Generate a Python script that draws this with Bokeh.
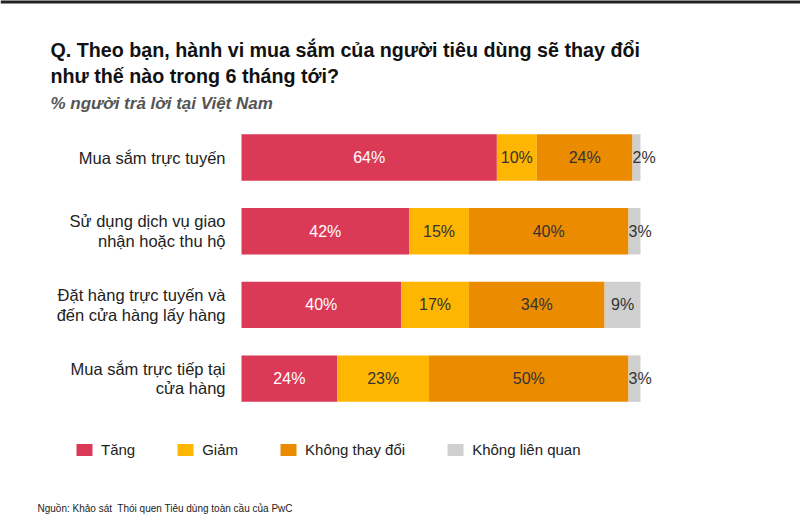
from bokeh.plotting import figure
from bokeh.models import ColumnDataSource, Range1d, Label, Legend, LegendItem, BoxAnnotation
from bokeh.core.properties import value
from bokeh.embed import file_html
from bokeh.resources import INLINE

# ---------------- data ----------------
categories = [
    "Mua sắm trực tuyến",
    "Sử dụng dịch vụ giao\nnhận hoặc thu hộ",
    "Đặt hàng trực tuyến và\nđến cửa hàng lấy hàng",
    "Mua sắm trực tiếp tại\ncửa hàng",
]
series_names = ["Tăng", "Giảm", "Không thay đổi", "Không liên quan"]
tang = [64, 42, 40, 24]
giam = [10, 15, 17, 23]
khong_thay_doi = [24, 40, 34, 50]
khong_lien_quan = [2, 3, 9, 3]
colors = ["#DB3A57", "#FFB600", "#EB8C00", "#CFCFCF"]
label_colors = ["#FFFFFF", "#333333", "#333333", "#333333"]

title_lines = [
    "Q. Theo bạn, hành vi mua sắm của người tiêu dùng sẽ thay đổi",
    "như thế nào trong 6 tháng tới?",
]
subtitle = "% người trả lời tại Việt Nam"
source_note = "Nguồn: Khảo sát\u00a0 Thói quen Tiêu dùng toàn cầu của PwC"

# ---------------- layout ----------------
W, H = 800, 529
X0, PX_PER = 241.0, 3.99      # pixel of 0 %, pixels per 1 %
Y0, ROW = 157.0, 73.7         # pixel of first row centre, row pitch
FONT = "Liberation Sans"

def x_of(px):
    return (px - X0) / PX_PER

def y_of(py):
    return (py - Y0) / ROW

p = figure(width=W, height=H, output_backend="svg", toolbar_location=None,
           x_range=Range1d(x_of(0), x_of(W)), y_range=Range1d(y_of(H), y_of(0)),
           x_axis_type=None, y_axis_type=None, min_border=0,
           min_border_left=0, min_border_right=0, min_border_top=0, min_border_bottom=0)
p.grid.visible = False
p.outline_line_color = None
p.background_fill_color = "white"
p.border_fill_color = "white"

rows = list(range(len(categories)))
keys = ["tang", "giam", "ktd", "klq"]
src = ColumnDataSource(dict(y=rows, tang=tang, giam=giam, ktd=khong_thay_doi, klq=khong_lien_quan))
renderers = p.hbar_stack(keys, y="y", height=0.63, color=colors, line_color=None, source=src)

# value labels
all_vals = [tang, giam, khong_thay_doi, khong_lien_quan]
cx, cy, ct, cc = [], [], [], []
lx, ly, lt = [], [], []
left = [0.0] * len(rows)
for s, vals in enumerate(all_vals):
    for i, v in enumerate(vals):
        if v < 5:
            lx.append(left[i]); ly.append(i); lt.append(f"{v}%")
        else:
            cx.append(left[i] + v / 2); cy.append(i); ct.append(f"{v}%"); cc.append(label_colors[s])
        left[i] += v

p.text(x="x", y="y", text="t", source=ColumnDataSource(dict(x=cx, y=cy, t=ct, c=cc)),
       text_color="c", text_align="center", text_baseline="middle",
       text_font=value(FONT), text_font_size="16px")
p.text(x="x", y="y", text="t", source=ColumnDataSource(dict(x=lx, y=ly, t=lt)),
       text_color="#333333", text_align="left", text_baseline="middle", x_offset=0,
       text_font=value(FONT), text_font_size="16px")

# category labels
p.text(x=[x_of(225)] * len(rows), y=rows, text=categories,
       text_align="right", text_baseline="middle", text_color="#222222",
       text_font=value(FONT), text_font_size="16.5px", text_line_height=1.08)

# titles
for line, base in zip(title_lines, [49, 75]):
    p.add_layout(Label(x=x_of(50), y=y_of(base), text=line, text_font=FONT,
                       text_font_size="19.7px", text_font_style="bold",
                       text_color="#111111", text_baseline="alphabetic"))
p.add_layout(Label(x=x_of(50), y=y_of(103), text=subtitle, text_font=FONT,
                   text_font_size="17px", text_font_style="bold italic",
                   text_color="#555555", text_baseline="alphabetic"))
p.add_layout(Label(x=x_of(37), y=y_of(508), text=source_note, text_font=FONT,
                   text_font_size="10px", text_color="#222222", text_baseline="alphabetic"))

# top dark rule
p.add_layout(BoxAnnotation(top=y_of(-5), bottom=y_of(3), fill_color="#222222",
                           fill_alpha=1, line_color=None))

# legend
items = [LegendItem(label=n, renderers=[r]) for n, r in zip(series_names, renderers)]
legend = Legend(items=items, orientation="horizontal", location=(74, 70),
                glyph_width=20, glyph_height=15, label_standoff=7, spacing=40,
                padding=0, margin=0, border_line_alpha=0, background_fill_alpha=0,
                label_text_font=FONT, label_text_font_size="15px",
                label_text_color="#222222", label_height=20)
p.add_layout(legend, "center")

open("out.html", "w").write(file_html(p, INLINE))
